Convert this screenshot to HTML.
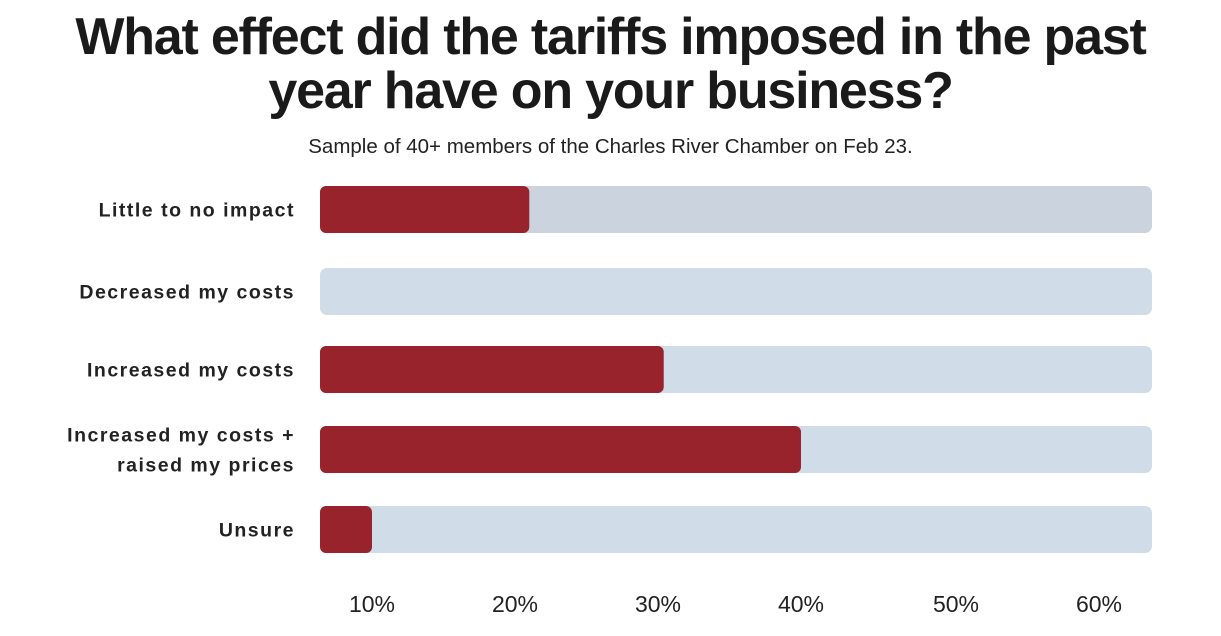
<!DOCTYPE html>
<html><head><meta charset="utf-8"><style>
body{margin:0;width:1221px;height:636px;background:#fff;overflow:hidden;font-family:"Liberation Sans",sans-serif;}
#t{position:absolute;left:0;width:1221px;text-align:center;font-weight:900;font-size:52px;line-height:54px;top:10px;color:#1a1a1a;letter-spacing:-1.2px;}
#s{position:absolute;left:0;width:1221px;text-align:center;top:135px;font-size:20.5px;color:#222;}
</style></head><body>
<div id="t">What effect did the tariffs imposed in the past<br>year have on your business?</div>
<div id="s">Sample of 40+ members of the Charles River Chamber on Feb 23.</div>
<svg id="c" width="1221" height="636" style="position:absolute;left:0;top:0"></svg>
<script>
const categories=[["Little to no impact"],["Decreased my costs"],["Increased my costs"],["Increased my costs +","raised my prices"],["Unsure"]];
const values=[21,0,30.4,40,10];
const tickValues=[10,20,30,40,50,60];
const tickLabels=["10%","20%","30%","40%","50%","60%"];
const svg=document.getElementById('c');
const NS='http://www.w3.org/2000/svg';
function x(v){return 372+(v-10)*14.3;}
function rowY(i){return 186+i*80;}
const left=320,right=1152,h=47;
categories.forEach((lab,i)=>{
  const y=rowY(i)+(i==1?2:0);
  const tr=document.createElementNS(NS,'rect');
  tr.setAttribute('x',left);tr.setAttribute('y',y);tr.setAttribute('width',right-left);tr.setAttribute('height',h);tr.setAttribute('rx',7);
  tr.setAttribute('fill',i==0?'#cbd4de':'#d0dce8');
  
  
  svg.appendChild(tr);
  if(values[i]>0){
    const b=document.createElementNS(NS,'rect');
    b.setAttribute('x',left);b.setAttribute('y',y);b.setAttribute('width',Math.max(0,x(values[i])-left));b.setAttribute('height',h);b.setAttribute('rx',6);
    b.setAttribute('fill','#98232c');
    
    
    svg.appendChild(b);
  }
  const t=document.createElementNS(NS,'text');
  t.setAttribute('text-anchor','end');t.setAttribute('x',295);
  t.setAttribute('font-size','19.5');t.setAttribute('font-weight','bold');t.setAttribute('fill','#222');t.setAttribute('letter-spacing','1.5');
  
  
  const cy=y+h/2+7;
  lab.forEach((l,k)=>{const ts=document.createElementNS(NS,'tspan');ts.setAttribute('x',295);ts.setAttribute('y',cy+(k-(lab.length-1)/2)*30);ts.textContent=l;t.appendChild(ts);});
  svg.appendChild(t);
});
tickValues.forEach((v,i)=>{
  const t=document.createElementNS(NS,'text');
  t.setAttribute('x',x(v)+(v>=50?12:0));t.setAttribute('y',612);t.setAttribute('text-anchor','middle');
  t.setAttribute('font-size','23');t.setAttribute('fill','#222');
  
  
  t.textContent=tickLabels[i];svg.appendChild(t);
});
</script>
</body></html>
